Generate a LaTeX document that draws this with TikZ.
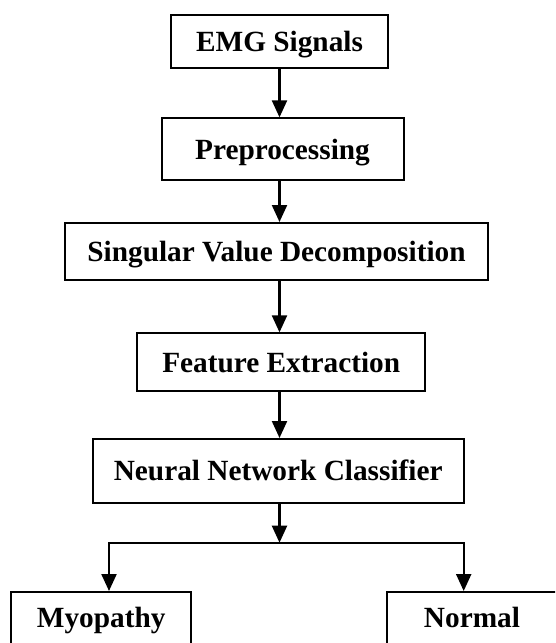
\documentclass[tikz,border=0pt]{standalone}
\usepackage{fontspec}
\setmainfont{Liberation Serif}
\usetikzlibrary{arrows.meta}
\tikzset{
  box/.style={draw, line width=2pt, inner sep=0pt, align=center,
    font=\fontsize{29.3pt}{35pt}\selectfont\bfseries,
    text height=26pt, text depth=6.3pt},
  conn/.style={line width=2.2pt},
  arr/.style={conn, -{Triangle[length=17pt,width=15pt]}}
}
\begin{document}
\begin{tikzpicture}[x=1pt,y=-1pt]
\useasboundingbox (0,0) rectangle (555,643);
\clip (0,0) rectangle (555,643);
\fill[white] (0,0) rectangle (555,643);
\coordinate (c) at (279.5,0);
\node[box, minimum width=217pt, minimum height=53.3pt] (emg) at (279.5,41.6) {EMG Signals};
\node[box, minimum width=242pt, minimum height=61.7pt] (pre) at (282.5,149.2) {Preprocessing};
\node[box, minimum width=423pt, minimum height=57pt] (svd) at (276.5,251.5) {Singular Value Decomposition};
\node[box, minimum width=288.5pt, minimum height=57.7pt] (fe) at (281.2,362.2) {Feature Extraction};
\node[box, minimum width=371pt, minimum height=64pt] (nn) at (278.2,471) {Neural Network Classifier};
\node[box, minimum width=179.7pt, minimum height=52pt] (my) at (101.2,618) {Myopathy};
\node[box, minimum width=170pt, minimum height=52pt] (no) at (472,618) {Normal};
\coordinate (j) at (279.5,542.7);
\coordinate (jl) at (109,542.7);
\coordinate (jr) at (463.7,542.7);
\draw[arr] (emg.south -| c) -- (pre.north -| c);
\draw[arr] (pre.south -| c) -- (svd.north -| c);
\draw[arr] (svd.south -| c) -- (fe.north -| c);
\draw[arr] (fe.south -| c) -- (nn.north -| c);
\draw[arr] (nn.south -| c) -- (j);
\draw[conn, line cap=rect] (jl) -- (jr);
\draw[arr] (jl) -- (jl |- my.north);
\draw[arr] (jr) -- (jr |- no.north);
\end{tikzpicture}
\end{document}
